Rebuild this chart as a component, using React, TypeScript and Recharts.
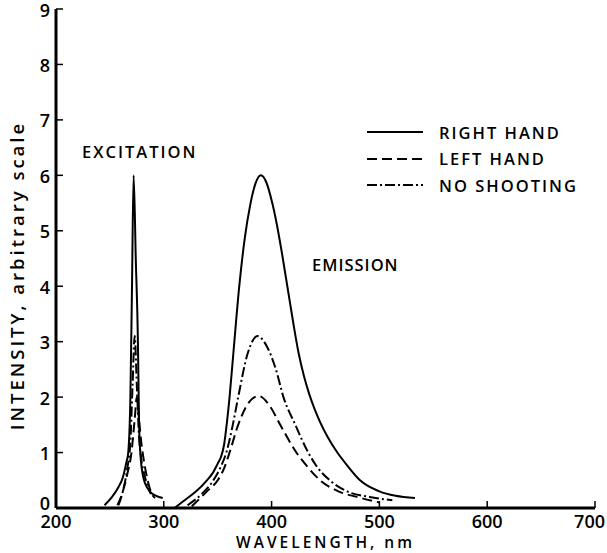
import { LineChart, Line, XAxis, YAxis, Label } from 'recharts';

const FONT = "'Open Sans', 'DejaVu Sans', sans-serif";

const wavelengthTicks = [200, 300, 400, 500, 600, 700];
const intensityTicks = [0, 1, 2, 3, 4, 5, 6, 7, 8, 9];

// excitation band: [wavelength nm, intensity]
const rightExcitation = [
  [245, 0.05], [252, 0.2], [258, 0.38], [262, 0.55], [265, 0.8], [267, 1.0],
  [269, 2.0], [270.5, 4.0], [272, 6.0], [274, 4.5], [276, 3.0], [277, 1.6],
  [278, 1.05], [281, 0.55], [287, 0.3], [293, 0.22], [299, 0.18],
];
const leftExcitation = [
  [257, 0.05], [262, 0.3], [266, 0.6], [270, 1.0], [273, 1.6], [275, 2.0],
  [277, 1.6], [279, 1.2], [282, 0.8], [285, 0.5], [289, 0.25], [292, 0.18],
];
const noShootExcitation = [
  [258, 0.05], [262, 0.3], [266, 0.7], [269, 1.2], [271, 2.2], [273, 3.1],
  [275, 2.2], [277, 1.3], [279, 0.9], [282, 0.6], [285, 0.4], [288, 0.25],
];

// emission band
const rightEmission = [
  [310, 0], [320, 0.15], [330, 0.3], [340, 0.5], [345, 0.62], [350, 0.8],
  [353, 0.92], [356, 1.15], [358, 1.45], [361, 2.0], [365, 2.9], [370, 4.0],
  [375, 4.85], [380, 5.45], [385, 5.85], [390, 6.0], [395, 5.88], [400, 5.55],
  [405, 5.1], [410, 4.55], [415, 3.95], [420, 3.35], [425, 2.8], [430, 2.38],
  [435, 2.05], [440, 1.78], [445, 1.55], [452, 1.28], [461, 1.0], [470, 0.77],
  [482, 0.5], [500, 0.3], [515, 0.22], [533, 0.18],
];
const leftEmission = [
  [326, 0.03], [340, 0.3], [350, 0.5], [356, 0.72], [361, 1.0], [369, 1.5],
  [378, 1.88], [388, 2.02], [398, 1.85], [408, 1.5], [423, 1.0], [433, 0.75],
  [445, 0.5], [462, 0.3], [479, 0.2], [500, 0.1],
];
const noShootEmission = [
  [322, 0.05], [335, 0.25], [346, 0.5], [353, 0.75], [358, 1.0], [364, 1.5],
  [369, 2.0], [378, 2.8], [387, 3.1], [396, 2.9], [404, 2.5], [411, 2.0],
  [422, 1.5], [434, 1.0], [443, 0.72], [454, 0.5], [470, 0.3], [491, 0.2],
  [512, 0.14],
];

const toRows = (pts: number[][]) => pts.map(([nm, v]) => ({ nm, v }));

const DASHED = '10 5';
const DASH_DOT = '10 3 2 3';

const legendItems = [
  { name: 'RIGHT HAND', dash: undefined },
  { name: 'LEFT HAND', dash: DASHED },
  { name: 'NO SHOOTING', dash: DASH_DOT },
];

const series = [
  { key: 'rx', pts: rightExcitation, dash: undefined },
  { key: 'lx', pts: leftExcitation, dash: DASHED },
  { key: 'nx', pts: noShootExcitation, dash: DASH_DOT },
  { key: 're', pts: rightEmission, dash: undefined },
  { key: 'le', pts: leftEmission, dash: DASHED },
  { key: 'ne', pts: noShootEmission, dash: DASH_DOT },
];

const textStyle = { fontFamily: FONT, fontWeight: 600, fill: '#000' };
const htmlText = { fontFamily: FONT, fontWeight: 600, fontSize: 16.5, letterSpacing: 2, color: '#000' };

// last x tick sits on the right edge, so pull it in a bit
function XTick({ x, y, payload }: any) {
  const last = payload.value === wavelengthTicks[wavelengthTicks.length - 1];
  return (
    <text x={last ? x + 10 : x} y={y} dy="0.71em" textAnchor={last ? 'end' : 'middle'}
      style={{ ...textStyle, fontSize: 18 }}>
      {payload.value}
    </text>
  );
}

// the 0 label sits a little above the corner, the 9 a little below the top
function YTick({ x, y, payload }: any) {
  const shift = payload.value === 0 ? -4 : payload.value === 9 ? 2 : 1;
  return (
    <text x={x} y={y + shift} dy="0.355em" textAnchor="end" style={{ ...textStyle, fontSize: 18 }}>
      {payload.value}
    </text>
  );
}

export default function App() {
  return (
    <div style={{ position: 'absolute', left: 0, top: 0, width: 607, height: 553, overflow: 'hidden', background: '#fff' }}>
      <LineChart width={607} height={553} margin={{ top: 9, right: 12, bottom: 0, left: 0 }}
        style={{ overflow: 'visible' }}>
        <XAxis
          dataKey="nm"
          type="number"
          domain={[200, 700]}
          ticks={wavelengthTicks}
          allowDataOverflow
          height={45}
          axisLine={{ stroke: '#000', strokeWidth: 3 }}
          tickLine={{ stroke: '#000', strokeWidth: 1.5 }}
          tickSize={-7}
          tickMargin={14}
          tick={<XTick />}
        >
          <Label
            content={({ viewBox }: any) => (
              <text x={viewBox.x + viewBox.width / 2} y={viewBox.y + 40} textAnchor="middle"
                style={{ ...textStyle, fontSize: 15.5, letterSpacing: 3 }}>
                WAVELENGTH, nm
              </text>
            )}
          />
        </XAxis>
        <YAxis
          type="number"
          domain={[0, 9]}
          ticks={intensityTicks}
          width={56}
          axisLine={{ stroke: '#000', strokeWidth: 3 }}
          tickLine={{ stroke: '#000', strokeWidth: 1.5 }}
          tickSize={-7}
          tickMargin={13}
          tick={<YTick />}
        >
          <Label
            content={({ viewBox }: any) => {
              const cx = 24;
              const cy = viewBox.y + viewBox.height / 2 + 17;
              return (
                <text x={cx} y={cy} textAnchor="middle" transform={`rotate(-90 ${cx} ${cy})`}
                  style={{ ...textStyle, fontSize: 18.5, letterSpacing: 3 }}>
                  INTENSITY, arbitrary scale
                </text>
              );
            }}
          />
        </YAxis>
        {series.map((s) => (
          <Line
            key={s.key}
            data={toRows(s.pts)}
            dataKey="v"
            type="monotone"
            stroke="#000"
            strokeWidth={2}
            strokeDasharray={s.dash}
            dot={false}
            activeDot={false}
            isAnimationActive={false}
          />
        ))}
      </LineChart>

      <div style={{ position: 'absolute', left: 367, top: 119 }}>
        {legendItems.map((it) => (
          <div key={it.name} style={{ display: 'flex', alignItems: 'center', height: 26.5 }}>
            <svg width={56} height={10} style={{ marginRight: 16 }}>
              <line x1={0} y1={5} x2={56} y2={5} stroke="#000" strokeWidth={2} strokeDasharray={it.dash} />
            </svg>
            <span style={htmlText}>{it.name}</span>
          </div>
        ))}
      </div>
      <div style={{ ...htmlText, position: 'absolute', left: 82, top: 140 }}>EXCITATION</div>
      <div style={{ ...htmlText, letterSpacing: 1, position: 'absolute', left: 312, top: 253 }}>EMISSION</div>
    </div>
  );
}
